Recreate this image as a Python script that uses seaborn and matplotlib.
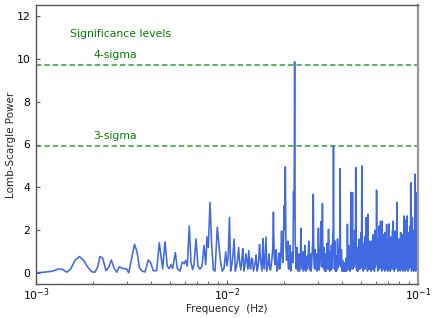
import numpy as np
import pandas as pd
import matplotlib
matplotlib.use("Agg")
import matplotlib.pyplot as plt
import seaborn as sns

# ---- data ----
# sparse low-frequency part (Hz, power)
low_freq = [0.001000, 0.001101, 0.001184, 0.001242, 0.001308, 0.001380, 0.001448, 0.001519,
            0.001600, 0.001686, 0.001768, 0.001861, 0.001957, 0.002036, 0.002104, 0.002163,
            0.002235, 0.002325, 0.002411, 0.002479, 0.002561, 0.002646, 0.002730, 0.002844,
            0.002985, 0.003058, 0.003170, 0.003279, 0.003380, 0.003483, 0.003589, 0.003722,
            0.003873, 0.003987, 0.004114, 0.004284, 0.004420, 0.004550, 0.004605, 0.004735,
            0.004868, 0.004987, 0.005090, 0.005195, 0.005362, 0.005493, 0.005675, 0.005834,
            0.005976, 0.006078, 0.006196, 0.006346, 0.006478, 0.006612, 0.006717, 0.006881,
            0.007049, 0.007222, 0.007398, 0.007579, 0.007736, 0.007859, 0.007983, 0.008147,
            0.008317, 0.008479, 0.008655, 0.008898, 0.009078, 0.009266, 0.009446, 0.009645,
            0.009845]
low_power = [0.02, 0.05, 0.08, 0.12, 0.20, 0.18, 0.05, 0.20,
             0.60, 0.78, 0.62, 0.30, 0.07, 0.05, 0.30, 0.78,
             0.70, 0.12, 0.30, 0.62, 0.25, 0.05, 0.30, 0.22,
             0.20, 0.02, 0.70, 1.35, 1.00, 0.25, 0.10, 0.06,
             0.62, 0.48, 0.12, 0.12, 1.42, 0.56, 0.20, 1.47,
             0.33, 0.22, 0.40, 0.22, 0.97, 0.22, 0.10, 0.53,
             0.44, 0.60, 0.33, 2.20, 0.50, 0.17, 0.40, 1.60,
             0.33, 0.19, 0.33, 1.30, 0.40, 1.70, 1.20, 3.30,
             1.30, 0.17, 0.10, 2.15, 1.30, 0.50, 0.10, 0.22,
             1.00]

# dense high-frequency part: periodogram grid 0.0100 .. 0.1000 Hz, step 0.00015 Hz
high_f_start = 0.0100
high_f_stop = 0.1000
# powers on the even grid points (0.0100, 0.0103, ...)
high_power = [
    0.35, 2.6, 0.4, 1.6, 0.3, 1.2, 0.15, 1.15, 0.35, 0.6,
    1.06, 0.2, 0.65, 0.3, 0.85, 0.25, 1.34, 0.4, 1.62, 0.2,
    1.69, 0.3, 0.9, 0.15, 0.7, 2.85, 0.4, 1.1, 0.2, 0.95,
    0.3, 1.97, 0.5, 3.14, 4.96, 0.6, 1.5, 0.2, 1.3, 0.4,
    1.0, 3.8, 9.85, 0.8, 1.2, 0.1, 0.9, 0.3, 2.1, 0.2,
    1.0, 0.35, 1.3, 0.1, 0.8, 0.4, 1.5, 0.15, 0.9, 0.3,
    1.2, 3.68, 0.4, 1.1, 0.2, 0.9, 0.3, 2.1, 0.15, 1.0,
    2.4, 0.3, 3.25, 0.5, 1.2, 0.1, 0.9, 0.35, 1.4, 0.2,
    2.05, 0.4, 1.0, 0.15, 1.3, 0.5, 1.8, 5.95, 0.6, 1.5,
    0.1, 0.8, 0.3, 1.6, 0.25, 1.2, 0.4, 4.88, 0.5, 1.1,
    0.1, 0.6, 0.2, 0.5, 0.1, 0.4, 0.1, 0.7, 0.2, 2.28,
    0.3, 1.3, 0.15, 1.0, 0.3, 3.77, 0.4, 1.2, 3.76, 0.2,
    1.5, 0.3, 2.0, 0.5, 4.93, 0.4, 1.2, 0.1, 0.9, 0.3,
    1.6, 0.2, 1.1, 0.4, 1.9, 0.3, 5.0, 0.5, 1.4, 0.1,
    1.0, 0.3, 1.7, 0.2, 1.2, 2.6, 0.4, 1.3, 0.1, 2.75,
    0.3, 1.0, 0.2, 1.5, 0.4, 0.9, 0.1, 1.5, 0.3, 1.1,
    0.2, 1.8, 0.4, 1.2, 0.1, 2.0, 0.3, 1.4, 0.5, 3.87,
    0.4, 1.6, 0.1, 1.1, 0.3, 2.2, 0.2, 1.3, 0.4, 2.43,
    0.3, 1.5, 0.1, 2.43, 0.5, 1.2, 0.2, 1.8, 0.3, 1.0,
    0.1, 1.9, 0.4, 1.3, 0.2, 2.28, 0.3, 1.1, 0.1, 1.6,
    0.4, 1.2, 2.3, 0.3, 1.4, 0.1, 1.0, 0.3, 1.7, 0.2,
    1.2, 0.4, 2.0, 0.2, 2.43, 0.4, 1.1, 0.1, 1.5, 0.3,
    1.97, 0.2, 1.3, 0.4, 1.8, 3.3, 0.5, 1.4, 0.1, 1.0,
    0.3, 1.6, 0.2, 1.2, 0.4, 1.5, 0.1, 1.9, 0.3, 1.1,
    0.2, 1.4, 1.8, 0.4, 1.0, 0.1, 1.3, 0.3, 2.67, 0.2,
    1.2, 0.4, 1.6, 0.1, 1.0, 0.3, 2.5, 0.2, 1.5, 2.67,
    0.4, 1.1, 0.1, 1.4, 0.3, 1.9, 0.2, 1.2, 0.4, 2.2,
    0.3, 1.5, 4.23, 0.5, 1.3, 0.1, 1.8, 0.3, 2.6, 0.2,
    1.1, 0.4, 1.6, 0.1, 2.0, 0.3, 1.4, 0.2, 4.62, 0.4,
    1.2, 0.1, 2.3, 0.3, 3.76, 0.2, 1.5, 0.4, 1.0, 0.1,
    0.8]
# powers on the odd grid points, between the even ones
high_power_between = [
    0.8, 0.1, 0.9, 0.1, 0.6, 0.5, 0.6, 0.1, 0.9, 0.2,
    0.4, 0.7, 0.1, 0.5, 0.1, 0.6, 0.7, 0.1, 0.6, 0.9,
    0.1, 0.5, 0.2, 0.4, 1.1, 0.9, 0.6, 0.1, 0.5, 0.2,
    1.0, 0.9, 1.4, 2.0, 1.2, 0.9, 0.2, 0.7, 0.1, 0.6,
    0.5, 2.5, 1.5, 0.2, 0.5, 0.6, 0.1, 0.9, 0.6, 0.4,
    0.1, 0.7, 0.2, 0.5, 0.2, 0.9, 0.6, 0.3, 0.1, 0.8,
    1.6, 0.9, 0.2, 0.6, 0.5, 0.1, 0.8, 0.6, 0.4, 1.2,
    0.8, 1.1, 0.9, 0.2, 0.5, 0.4, 0.1, 0.8, 0.5, 0.7,
    0.9, 0.1, 0.6, 0.4, 0.2, 1.0, 1.9, 1.5, 0.2, 0.6,
    0.3, 0.1, 0.7, 0.5, 0.3, 0.6, 1.5, 1.2, 0.3, 0.6,
    0.2, 0.1, 0.3, 0.1, 0.2, 0.1, 0.3, 0.1, 0.8, 0.9,
    0.6, 0.3, 0.4, 0.1, 1.1, 1.2, 0.2, 1.5, 0.8, 0.6,
    0.4, 0.9, 0.7, 1.2, 1.6, 0.2, 0.3, 0.4, 0.1, 0.6,
    0.5, 0.8, 0.2, 1.0, 0.7, 1.5, 1.8, 0.2, 0.5, 0.4,
    0.2, 0.9, 0.7, 0.5, 1.1, 0.8, 0.7, 0.3, 1.0, 0.8,
    0.2, 0.4, 0.6, 0.3, 0.2, 0.4, 0.6, 0.5, 0.2, 0.4,
    0.8, 0.6, 0.3, 0.2, 0.9, 0.7, 0.5, 0.9, 1.4, 1.2,
    0.8, 0.2, 0.4, 0.5, 0.9, 0.8, 0.3, 0.6, 1.0, 0.9,
    0.6, 0.2, 1.0, 1.1, 0.6, 0.3, 0.7, 0.5, 0.4, 0.2,
    0.6, 0.8, 0.5, 0.9, 1.0, 0.7, 0.2, 0.4, 0.5, 0.6,
    1.0, 1.5, 0.8, 0.6, 0.2, 0.4, 0.5, 0.8, 0.6, 0.3,
    0.5, 0.9, 0.8, 0.7, 1.2, 0.3, 0.6, 0.4, 0.5, 0.7,
    0.8, 0.6, 0.5, 0.9, 1.3, 1.6, 0.7, 0.3, 0.4, 0.5,
    0.7, 0.6, 0.4, 0.5, 0.6, 0.5, 0.7, 0.8, 0.4, 0.5,
    0.6, 1.0, 0.8, 0.3, 0.4, 0.5, 0.6, 0.9, 0.7, 0.8,
    0.5, 0.6, 0.7, 0.4, 0.3, 0.9, 0.8, 0.6, 0.9, 1.2,
    0.6, 0.5, 0.4, 0.6, 0.7, 0.8, 0.9, 0.6, 0.9, 0.8,
    0.6, 1.8, 1.4, 0.6, 0.4, 0.7, 0.8, 1.0, 0.7, 0.5,
    0.5, 0.6, 0.9, 0.4, 0.7, 0.8, 0.6, 0.5, 1.1, 1.4,
    0.5, 0.4, 0.9, 0.6, 1.8, 1.3, 0.7, 0.6, 0.5, 0.3]

sigma_levels = [5.93, 9.70]
sigma_labels = ["3-sigma", "4-sigma"]
title_text = "Significance levels"

# ---- build table ----
n_hi = len(high_power) + len(high_power_between)
high_freq = np.linspace(high_f_start, high_f_stop, n_hi)
high_all = np.empty(n_hi)
high_all[0::2] = high_power
high_all[1::2] = high_power_between
df = pd.DataFrame({
    "freq": np.concatenate([low_freq, high_freq]),
    "power": np.concatenate([low_power, high_all]),
})

sns.set_style("ticks")
plt.rcParams["font.family"] = ["DejaVu Sans"]
plt.rcParams["font.size"] = 7

fig = plt.figure(figsize=(4.36, 3.18), dpi=100)
ax = fig.add_axes([36 / 436, 1 - 284 / 318, 382 / 436, 279 / 318])

sns.lineplot(data=df, x="freq", y="power", ax=ax, color="#4169E1",
             linewidth=1.15, estimator=None, sort=False)

for lvl, lab in zip(sigma_levels, sigma_labels):
    ax.axhline(lvl, color="#2ca02c", linestyle="--", linewidth=1.1, dashes=(3.5, 2))
    ax.text(0.00199, lvl + 0.25, lab, color="green", fontsize=7.8, ha="left", va="bottom")
ax.text(0.00151, 11.15, title_text, color="green", fontsize=7.8, ha="left", va="center")

ax.set_xscale("log")
ax.set_xlim(1e-3, 1e-1)
ax.set_ylim(-0.5, 12.5)
ax.set_yticks([0, 2, 4, 6, 8, 10, 12])
ax.set_xlabel("Frequency  (Hz)", fontsize=7.5, labelpad=1)
ax.set_ylabel("Lomb-Scargle Power", fontsize=7.5)
ax.yaxis.set_label_coords(-0.052, 0.5)

ax.tick_params(axis="both", which="both", direction="in", labelsize=7.8, colors="#555555",
               labelcolor="black")
ax.tick_params(axis="y", which="major", length=3, width=0.8, pad=4)
ax.tick_params(axis="x", which="major", length=3, width=0.8, pad=1.5)
ax.tick_params(axis="x", which="minor", length=2, width=0.6)

for side in ["left", "bottom", "top"]:
    ax.spines[side].set_color("#555555")
    ax.spines[side].set_linewidth(1.0)
ax.spines["right"].set_color("#999999")
ax.spines["right"].set_linewidth(1.6)

fig.savefig("out.png", dpi=100)
